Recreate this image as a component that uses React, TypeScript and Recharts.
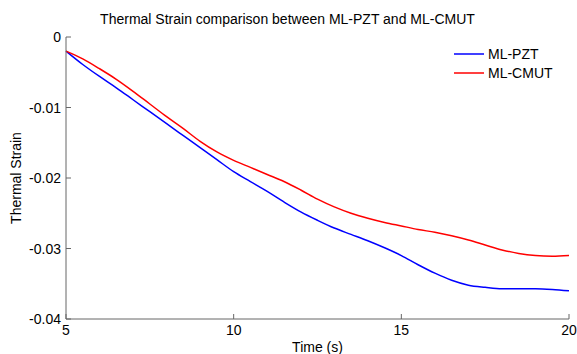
import { LineChart, Line, XAxis, YAxis } from "recharts";

const times = [
  5, 5.5, 6, 6.5, 7, 7.5, 8, 8.5, 9, 9.5, 10, 10.5, 11, 11.5, 12, 12.5, 13, 13.5,
  14, 14.5, 15, 15.5, 16, 16.5, 17, 17.5, 18, 18.5, 19, 19.5, 20,
];

const pzt = [
  -0.002, -0.0039, -0.0056, -0.0072, -0.0089, -0.0106, -0.0123, -0.014, -0.0157,
  -0.0174, -0.0191, -0.0205, -0.0219, -0.0234, -0.0248, -0.026, -0.0271, -0.028,
  -0.0289, -0.0299, -0.031, -0.0323, -0.0335, -0.0345, -0.0352, -0.0355, -0.0357,
  -0.0357, -0.0357, -0.0358, -0.036,
];

const cmut = [
  -0.002, -0.0031, -0.0045, -0.006, -0.0077, -0.0095, -0.0113, -0.013, -0.0148,
  -0.0163, -0.0175, -0.0185, -0.0195, -0.0205, -0.0217, -0.023, -0.0241, -0.025,
  -0.0257, -0.0263, -0.0268, -0.0273, -0.0277, -0.0282, -0.0288, -0.0295, -0.0302,
  -0.0307, -0.031, -0.0311, -0.031,
];

const xTicks = [5, 10, 15, 20];
const yTicks = [-0.04, -0.03, -0.02, -0.01, 0];

const FONT = "'Liberation Sans', Arial, sans-serif";
const FS = 14;
const AXIS = "#666";

const YTick = ({ x, y, payload }: any) => (
  <g>
    <line x1={x + 5} y1={y} x2={x + 10} y2={y} stroke={AXIS} />
    <text x={x} y={y} dy={5} textAnchor="end" fontSize={FS} fill="#000" fontFamily={FONT}>
      {String(payload.value)}
    </text>
  </g>
);

const XTick = ({ x, y, payload }: any) => (
  <g>
    <line x1={x} y1={y - 5} x2={x} y2={y - 10} stroke={AXIS} />
    <text x={x} y={y} dy={11} textAnchor="middle" fontSize={FS} fill="#000" fontFamily={FONT}>
      {payload.value}
    </text>
  </g>
);

export default function App() {
  const data = times.map((t, i) => ({ t, pzt: pzt[i], cmut: cmut[i] }));

  return (
    <div style={{ position: "absolute", left: 0, top: 0, width: 577, height: 354, background: "#fff" }}>
      <div
        style={{
          position: "absolute",
          top: 11,
          left: 52,
          width: 471,
          textAlign: "center",
          fontFamily: FONT,
          fontSize: FS,
          lineHeight: "16px",
          color: "#000",
        }}
      >
        Thermal Strain comparison between ML-PZT and ML-CMUT
      </div>
      <svg
        width={130}
        height={44}
        style={{ position: "absolute", left: 450, top: 44 }}
      >
        <line x1={4} y1={10} x2={34} y2={10} stroke="#0000ff" strokeWidth={1.5} />
        <text x={38} y={15} fontSize={FS} fontFamily={FONT} fill="#000">ML-PZT</text>
        <line x1={4} y1={29} x2={34} y2={29} stroke="#ff0000" strokeWidth={1.5} />
        <text x={38} y={34} fontSize={FS} fontFamily={FONT} fill="#000">ML-CMUT</text>
      </svg>
      <LineChart
        width={577}
        height={354}
        data={data}
        margin={{ top: 37, right: 8, bottom: 0, left: 10 }}
        style={{ position: "absolute", left: 0, top: 0 }}
      >
        <XAxis
          dataKey="t"
          type="number"
          domain={[5, 20]}
          ticks={xTicks}
          stroke={AXIS}
          tickLine={false}
          tickSize={0}
          tickMargin={5}
          height={35}
          tick={<XTick />}
          label={{
            value: "Time (s)",
            position: "insideBottom",
            offset: 2,
            fontSize: FS,
            fill: "#000",
            fontFamily: FONT,
          }}
        />
        <YAxis
          type="number"
          domain={[-0.04, 0]}
          ticks={yTicks}
          stroke={AXIS}
          tickLine={false}
          tickSize={0}
          tickMargin={5}
          width={56}
          tick={<YTick />}
          label={{
            value: "Thermal Strain",
            angle: -90,
            position: "insideLeft",
            offset: 6,
            fontSize: FS,
            fill: "#000",
            fontFamily: FONT,
            style: { textAnchor: "middle" },
          }}
        />
        <Line
          dataKey="pzt"
          name="ML-PZT"
          type="monotone"
          stroke="#0000ff"
          strokeWidth={1.5}
          dot={false}
          isAnimationActive={false}
        />
        <Line
          dataKey="cmut"
          name="ML-CMUT"
          type="monotone"
          stroke="#ff0000"
          strokeWidth={1.5}
          dot={false}
          isAnimationActive={false}
        />
      </LineChart>
    </div>
  );
}
